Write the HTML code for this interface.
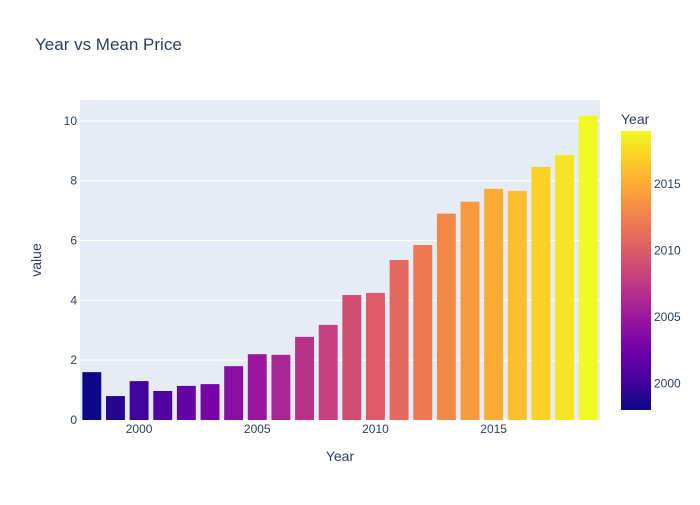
<!DOCTYPE html>
<html><head><meta charset="utf-8"><style>
body{margin:0;background:#fff;font-family:"Liberation Sans",sans-serif}
svg text{font-family:"Liberation Sans",sans-serif}
</style></head><body>
<svg id="chart" width="700" height="500" xmlns="http://www.w3.org/2000/svg">
<defs><linearGradient id="plasma" x1="0" y1="1" x2="0" y2="0">
<stop offset="0" stop-color="#0d0887"/><stop offset="0.111" stop-color="#46039f"/><stop offset="0.222" stop-color="#7201a8"/><stop offset="0.333" stop-color="#9c179e"/><stop offset="0.444" stop-color="#bd3786"/><stop offset="0.556" stop-color="#d8576b"/><stop offset="0.667" stop-color="#ed7953"/><stop offset="0.778" stop-color="#fb9f3a"/><stop offset="0.889" stop-color="#fdca26"/><stop offset="1" stop-color="#f0f921"/>
</linearGradient></defs>
<rect width="700" height="500" fill="#fff"/>
<text x="35" y="50" font-size="17" fill="#2a3f5f">Year vs Mean Price</text>
<rect x="80" y="100" width="520" height="320" fill="#e5ecf6"/>
<g id="grid"></g><g id="bars"></g><g id="xticks"></g><g id="yticks"></g>
<text x="340" y="461" font-size="14" fill="#2a3f5f" text-anchor="middle">Year</text>
<text x="41" y="260" font-size="14" fill="#2a3f5f" text-anchor="middle" transform="rotate(-90 41 260)">value</text>
<text x="621" y="124" font-size="14" fill="#2a3f5f">Year</text>
<rect x="621" y="131" width="30" height="279" fill="url(#plasma)"/>
<g id="cticks"></g>
</svg>
<script>
const years=[1998,1999,2000,2001,2002,2003,2004,2005,2006,2007,2008,2009,2010,2011,2012,2013,2014,2015,2016,2017,2018,2019];
const prices=[1.6,0.8,1.3,0.97,1.14,1.2,1.8,2.2,2.18,2.78,3.18,4.18,4.25,5.35,5.85,6.9,7.3,7.73,7.66,8.46,8.86,10.17];
const yTicks=[0,2,4,6,8,10];
const xTicks=[2000,2005,2010,2015];
const cTicks=[2000,2005,2010,2015];
const NS="http://www.w3.org/2000/svg";
const x0=80,x1=600,yb=420,yt=100,xmin=1997.5,xmax=2019.5,ymax=10.7;
const X=v=>x0+(v-xmin)/(xmax-xmin)*(x1-x0);
const Y=v=>yb-v/ymax*(yb-yt);
const cmin=Math.min(...years),cmax=Math.max(...years);
const C=v=>410-(v-cmin)/(cmax-cmin)*279;
const stops=["#0d0887","#46039f","#7201a8","#9c179e","#bd3786","#d8576b","#ed7953","#fb9f3a","#fdca26","#f0f921"];
function col(t){t=Math.max(0,Math.min(1,t))*(stops.length-1);const i=Math.min(Math.floor(t),stops.length-2),f=t-i;
const a=stops[i],b=stops[i+1];const p=(s,k)=>parseInt(s.substr(k,2),16);
return "rgb("+[1,3,5].map(k=>Math.round(p(a,k)+(p(b,k)-p(a,k))*f)).join(",")+")";}
function mk(tag,attrs,parent,txt){const e=document.createElementNS(NS,tag);for(const k in attrs)e.setAttribute(k,attrs[k]);if(txt!==undefined)e.textContent=txt;document.getElementById(parent).appendChild(e);return e;}
yTicks.forEach(v=>{
 const l=mk("line",{x1:x0,x2:x1,y1:Y(v),y2:Y(v),stroke:"#fff","stroke-width":1},"grid");
 
 
 const t=mk("text",{x:x0-3,y:Y(v)+4,"font-size":12,fill:"#2a3f5f","text-anchor":"end"},"yticks",String(v));
 
 
});
const bw=(x1-x0)/(xmax-xmin)*0.8;
years.forEach((yr,i)=>{
 const r=mk("rect",{x:X(yr)-bw/2,y:Y(prices[i]),width:bw,height:Y(0)-Y(prices[i]),fill:col((yr-cmin)/(cmax-cmin))},"bars");
 
 
});
xTicks.forEach(v=>{
 const t=mk("text",{x:X(v),y:433,"font-size":12,fill:"#2a3f5f","text-anchor":"middle"},"xticks",String(v));
 
 
});
cTicks.forEach(v=>{
 const t=mk("text",{x:654,y:C(v)+4,"font-size":12,fill:"#2a3f5f"},"cticks",String(v));
 
 
});
</script>
</body></html>
